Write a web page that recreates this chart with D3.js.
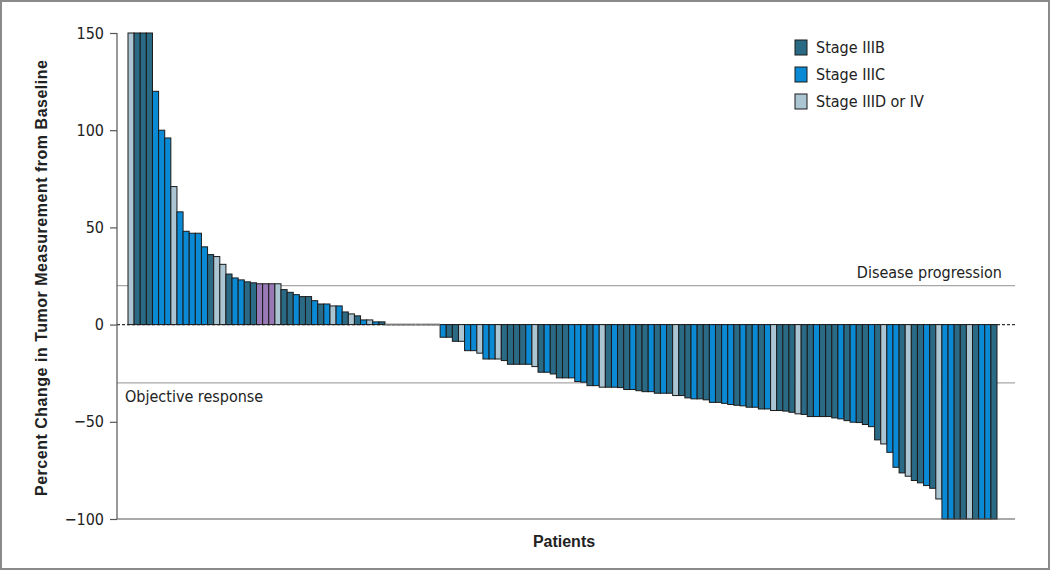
<!DOCTYPE html>
<html>
<head>
<meta charset="utf-8">
<script src="https://cdn.jsdelivr.net/npm/d3@7/dist/d3.min.js"></script>
<style>
  body { margin: 0; background: #fff; }
  svg text { font-family: "Liberation Sans Narrow", "DejaVu Sans Condensed", "Liberation Sans", sans-serif; fill: #222; }
  .title { font-family: "Liberation Sans", "DejaVu Sans", sans-serif; font-weight: bold; }
</style>
</head>
<body>
<svg id="chart" width="1050" height="570"></svg>
<script>
// percent change per patient, sorted (waterfall)
const changes = [
  150, 150, 150, 150, 120, 100, 96, 71, 58, 48, 47, 47, 40, 36, 35, 31, 26, 24, 23, 22, 21.5,
  21, 21, 21, 21, 18, 16.6, 15.4, 14.4, 14.4, 12.3, 10.6, 10.6, 9.6, 9.6, 6.5, 5.5, 4.5, 2.4, 2.4, 1.4, 1.4,
  0, 0, 0, 0, 0, 0, 0, 0, 0,
  -6.5, -6.5, -8.6, -8.6, -13.4, -13.4, -14.7, -17.7, -17.7, -17.7, -18.5, -20.4, -20.4, -20.4, -20.4,
  -21.6, -24.5, -24.5, -25.4, -27.4, -27.4, -27.4, -29.3, -29.6, -31.4, -31.4, -32.2, -32.2, -32.2, -32.4,
  -33.4, -33.4, -34, -34.5, -34.5, -35.3, -35.3, -35.3, -36.5, -36.5, -37.7, -38.2, -38.2, -38.7, -40,
  -40, -40.5, -41.1, -41.5, -41.8, -42.5, -42.5, -43.4, -43.4, -44.2, -44.2, -44.5, -45.1, -45.9, -46.2,
  -47.3, -47.3, -47.3, -47.3, -48, -48.5, -49.4, -50.2, -50.4, -51.4, -52.5, -59.3, -61.4, -65.7, -73.4,
  -76.3, -78, -80.2, -81.4, -82.8, -84.2, -89.7,
  -100, -100, -100, -100, -100, -100, -100, -100, -100
];

// B = IIIB, C = IIIC, D = IIID or IV, X = other, Z = no change
const stages = [
  "D","B","B","B","C","C","C","D","C","C","C","C","C","B","D","D","B","C","C","B","B",
  "X","X","X","D","B","B","C","B","B","C","B","C","D","C","B","D","B","C","D","C","B",
  "Z","Z","Z","Z","Z","Z","Z","Z","Z",
  "C","B","B","D","C","C","D","C","C","D","B","B","B","B","C",
  "D","B","C","B","B","B","C","C","C","B","C","D","B","C","B",
  "B","C","B","B","C","B","C","B","D","B","B","C","B","B","C",
  "B","C","C","B","C","B","C","B","C","D","B","B","B","D","B",
  "B","C","B","B","B","C","B","C","B","B","C","B","D","C","C",
  "B","D","B","B","C","B","D",
  "C","C","B","B","D","B","C","C","B"
];

const stageColors = { B: "#2b6a84", C: "#0a8ad4", D: "#abc5d3", X: "#9a7ab6", Z: "#7a7a7a" };
const legendKeys = ["B", "C", "D"];
const legendNames = ["Stage IIIB", "Stage IIIC", "Stage IIID or IV"];
const yTicks = [150, 100, 50, 0, -50, -100];
const refLines = [
  { value: 20, label: "Disease progression" },
  { value: -30, label: "Objective response" }
];

const svg = d3.select("#chart");
const W = 1050, H = 570;
const axisX = 117, plotRight = 1015;

svg.append("rect")
  .attr("x", 1).attr("y", 1).attr("width", W - 2).attr("height", H - 2)
  .attr("fill", "#fff").attr("stroke", "#8a8a8a").attr("stroke-width", 2);

const y = d3.scaleLinear().domain([-100, 150]).range([519, 33]);
const x = d3.scaleBand().domain(d3.range(changes.length)).range([128, 997]).padding(0);

// reference lines
refLines.forEach(r => {
  svg.append("line")
    .attr("x1", axisX).attr("x2", plotRight)
    .attr("y1", y(r.value)).attr("y2", y(r.value))
    .attr("stroke", "#a8a8a8").attr("stroke-width", 1.2);
});

// zero line (dashed, bars sit on it)
svg.append("line")
  .attr("x1", axisX).attr("x2", plotRight)
  .attr("y1", y(0)).attr("y2", y(0))
  .attr("stroke", "#333").attr("stroke-width", 1.2)
  .attr("stroke-dasharray", "3,2");

const barData = changes.map((v, i) => ({ i, v, s: stages[i] }));

// bars
svg.append("g").selectAll("rect")
  .data(barData.filter(d => d.v !== 0))
  .join("rect")
  .attr("x", d => x(d.i))
  .attr("width", x.bandwidth())
  .attr("y", d => y(Math.max(0, d.v)))
  .attr("height", d => Math.abs(y(d.v) - y(0)))
  .attr("fill", d => stageColors[d.s])
  .attr("stroke", "#1a1a1a")
  .attr("stroke-width", 1);

// patients with no change: flat gray marks on the zero line
svg.append("g").selectAll("line")
  .data(barData.filter(d => d.v === 0))
  .join("line")
  .attr("x1", d => x(d.i)).attr("x2", d => x(d.i) + x.bandwidth())
  .attr("y1", y(0)).attr("y2", y(0))
  .attr("stroke", stageColors.Z).attr("stroke-width", 2);

// bottom axis line
svg.append("line")
  .attr("x1", axisX).attr("x2", plotRight)
  .attr("y1", y(-100)).attr("y2", y(-100))
  .attr("stroke", "#555").attr("stroke-width", 1.2);

// y axis
const yAxis = svg.append("g")
  .attr("transform", `translate(${axisX},0)`)
  .call(d3.axisLeft(y).tickValues(yTicks).tickSize(7).tickPadding(6)
    .tickFormat(d => d < 0 ? "\u2212" + Math.abs(d) : d));
yAxis.select(".domain").attr("stroke", "#555").attr("stroke-width", 1.2)
  .attr("d", `M0,${y(150)}V${y(-100)}`);
yAxis.selectAll(".tick line").attr("stroke", "#555").attr("stroke-width", 1.2);
yAxis.selectAll(".tick text")
  .style("font-family", '"Liberation Sans Narrow", "DejaVu Sans Condensed", sans-serif')
  .style("font-size", "16px").attr("fill", "#222");

// reference labels
svg.append("text").attr("x", 1002).attr("y", y(20) - 8)
  .attr("text-anchor", "end").style("font-size", "16px").text(refLines[0].label);
svg.append("text").attr("x", 125).attr("y", y(-30) + 19)
  .style("font-size", "16px").text(refLines[1].label);

// axis titles
svg.append("text").attr("class", "title")
  .attr("transform", `translate(47,${(y(150) + y(-100)) / 2 + 2}) rotate(-90)`)
  .attr("text-anchor", "middle").style("font-size", "16px")
  .attr("textLength", 436).attr("lengthAdjust", "spacing")
  .text("Percent Change in Tumor Measurement from Baseline");
svg.append("text").attr("class", "title")
  .attr("x", 564).attr("y", 547).attr("text-anchor", "middle").style("font-size", "16px")
  .text("Patients");

// legend
const lg = svg.append("g").attr("transform", "translate(795,40)");
legendKeys.forEach((k, i) => {
  lg.append("rect").attr("x", 0).attr("y", i * 27).attr("width", 12).attr("height", 15)
    .attr("fill", stageColors[k]).attr("stroke", "#1a1a1a").attr("stroke-width", 1);
  lg.append("text").attr("x", 21).attr("y", i * 27 + 13)
    .style("font-size", "16px").text(legendNames[i]);
});
</script>
</body>
</html>
